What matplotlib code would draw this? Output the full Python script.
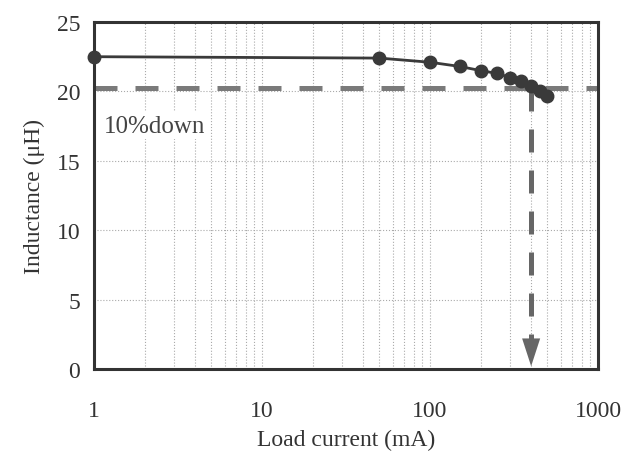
import matplotlib.pyplot as plt
from matplotlib.ticker import LogLocator, NullFormatter

# load current (mA) vs inductance (uH)
current = [1, 50, 100, 150, 200, 250, 300, 350, 400, 450, 500]
inductance = [22.5, 22.4, 22.1, 21.8, 21.5, 21.3, 21.0, 20.75, 20.4, 20.0, 19.7]
limit_level = 20.25
limit_current = 400

plt.rcParams['font.family'] = ['Liberation Serif', 'DejaVu Serif']

fig = plt.figure(figsize=(6.38, 4.6), dpi=100)
ax = fig.add_axes([94 / 638, 90 / 460, 504 / 638, 347 / 460])

ax.set_xscale('log')
ax.set_xlim(1, 1000)
ax.set_ylim(0, 25)

ax.xaxis.set_minor_locator(LogLocator(base=10, subs=range(2, 10), numticks=20))
ax.xaxis.set_minor_formatter(NullFormatter())
ax.set_xticks([1, 10, 100, 1000])
ax.set_xticklabels(['1', '10', '100', '1000'])
ax.set_yticks([0, 5, 10, 15, 20, 25])

ax.grid(True, which='both', axis='x', color='#aaaaaa', linestyle=':', linewidth=0.8)
ax.grid(True, which='major', axis='y', color='#aaaaaa', linestyle=':', linewidth=0.8)
ax.tick_params(which='both', length=0, labelcolor='#333333')
ax.tick_params(axis='x', pad=22, labelsize=17)
ax.tick_params(axis='y', pad=10, labelsize=17)

for s in ax.spines.values():
    s.set_linewidth(2.2)
    s.set_color('#333333')

dash = (0, (4.6, 3.6))
ax.axhline(limit_level, color='#7a7a7a', linewidth=3.6, linestyle=dash, zorder=2)
ax.plot([limit_current, limit_current], [limit_level, 1.8], color='#666666',
        linewidth=3.6, linestyle=dash, zorder=2)
ax.annotate('', xy=(limit_current, 0), xytext=(limit_current, 2.5),
            arrowprops=dict(arrowstyle='-|>,head_length=2.0,head_width=0.65',
                            color='#666666', lw=0), zorder=3)

ax.plot(current, inductance, color='#3a3a3a', linewidth=2, marker='o',
        markersize=9, clip_on=False, zorder=4)

ax.text(1.15, 17.1, '10%down', fontsize=18, color='#444444',
        bbox=dict(facecolor='white', edgecolor='none', pad=2), zorder=3)

ax.set_xlabel('Load current (mA)', fontsize=17, labelpad=6, color='#333333')
ax.set_ylabel('Inductance (μH)', fontsize=17, labelpad=8, color='#333333')

fig.savefig('out.png', dpi=100)
